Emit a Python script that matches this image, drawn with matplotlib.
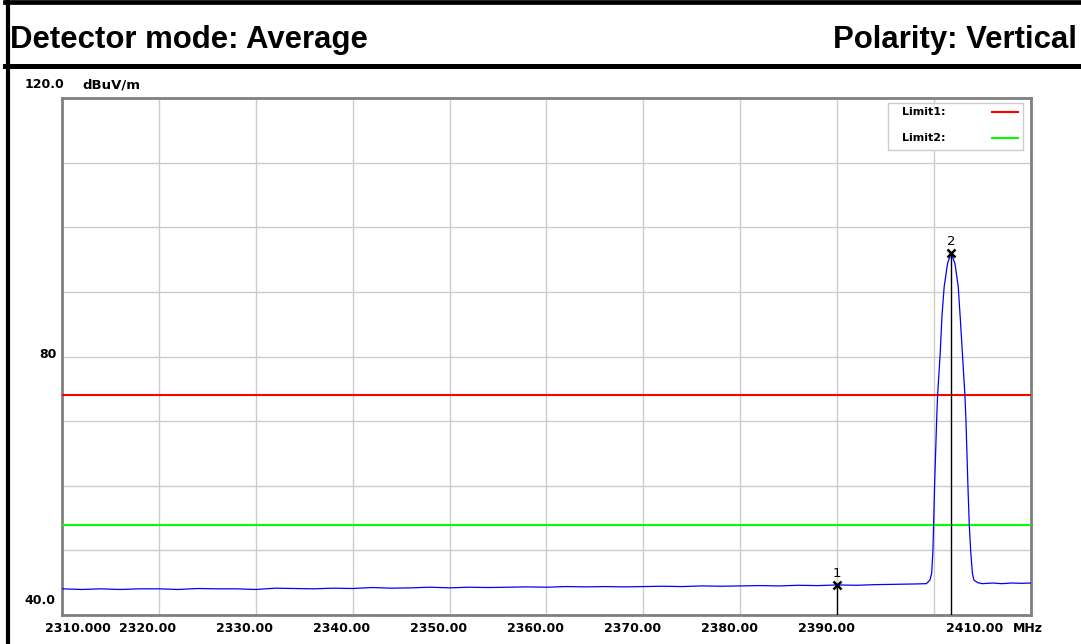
import matplotlib
matplotlib.use("Agg")
import matplotlib.pyplot as plt
from matplotlib.lines import Line2D
from matplotlib.patches import Rectangle

# trace (MHz, dBuV/m)
floor_freq = list(range(2310, 2399, 2))
floor_level = [44.05, 43.95, 44.05, 43.95, 44.05, 44.05, 43.95, 44.10, 44.05, 44.05,
               43.95, 44.15, 44.10, 44.05, 44.15, 44.10, 44.25, 44.15, 44.20, 44.30,
               44.20, 44.30, 44.25, 44.30, 44.35, 44.30, 44.40, 44.35, 44.40, 44.35,
               44.40, 44.45, 44.40, 44.50, 44.45, 44.50, 44.55, 44.50, 44.60, 44.55,
               44.65, 44.60, 44.70, 44.75, 44.80]
peak_freq = [2399.20, 2399.57, 2399.75, 2399.88, 2399.95, 2400.05, 2400.26, 2400.36,
             2400.63, 2400.81, 2401.04, 2401.39, 2401.75, 2402.15, 2402.49, 2402.69,
             2402.92, 2403.18, 2403.29, 2403.49, 2403.63, 2403.77, 2403.95, 2404.11,
             2404.50, 2404.83]
peak_level = [44.85, 45.4, 46.5, 50.0, 54.0, 60.0, 70.0, 74.0,
              80.5, 86.2, 90.8, 94.4, 96.0, 94.4, 90.8, 86.2,
              80.5, 74.0, 70.0, 60.0, 54.0, 50.0, 46.5, 45.4,
              45.0, 44.9]
tail_freq = [2405, 2406, 2407, 2408, 2409, 2410]
tail_level = [44.85, 44.95, 44.85, 44.95, 44.90, 44.95]

limit1 = 74.0
limit2 = 54.0

marker_freq = [2390.0, 2401.75]
marker_level = [44.65, 96.0]
marker_names = ['1', '2']

x_ticks = [2310, 2320, 2330, 2340, 2350, 2360, 2370, 2380, 2390, 2410]
x_tick_labels = ['2310.000', '2320.00', '2330.00', '2340.00', '2350.00', '2360.00',
                 '2370.00', '2380.00', '2390.00', '2410.00']
y_tick_labels = ['40.0', '80', '120.0']

freq = floor_freq + peak_freq + tail_freq
level = floor_level + peak_level + tail_level

W, H = 1081, 644
fig = plt.figure(figsize=(W / 100, H / 100), dpi=100)
ax = fig.add_axes([62 / W, 1 - 615 / H, 969 / W, 517 / H])

ax.set_xlim(2310, 2410)
ax.set_ylim(40, 120)
ax.set_xticks(range(2310, 2411, 10))
ax.set_yticks(range(40, 121, 10))
ax.tick_params(length=0, labelbottom=False, labelleft=False)
ax.grid(True, color='#cccccc', linewidth=1.0)
ax.set_axisbelow(True)
for s in ax.spines.values():
    s.set_color('#808080')
    s.set_linewidth(2)

ax.axhline(limit1, color='#ff0000', lw=1.5, zorder=3)
ax.axhline(limit2, color='#00ff00', lw=1.5, zorder=3)
ax.plot(freq, level, color='#0000ff', lw=0.9, zorder=4)

for f, v, n in zip(marker_freq, marker_level, marker_names):
    ax.plot([f, f], [40, v], color='black', lw=1.0, zorder=5)
    ax.plot(f, v, marker='x', ms=6, mew=1.8, color='black', zorder=6)
    ax.annotate(n, (f, v), xytext=(0, 3.5), textcoords='offset points',
                ha='center', va='bottom', fontsize=9.5, zorder=6)

# legend box, drawn like the analyser's
lab_font = dict(family='DejaVu Sans', weight='bold', fontsize=8)
fig.add_artist(Rectangle((888 / W, 1 - 150 / H), 135 / W, 47 / H, transform=fig.transFigure,
                         facecolor='white', edgecolor='#cccccc', lw=1, zorder=10))
for name, col, ypix in [('Limit1:', '#ff0000', 112), ('Limit2:', '#00ff00', 138)]:
    fig.text(902 / W, 1 - ypix / H, name, ha='left', va='center', zorder=11, **lab_font)
    fig.add_artist(Line2D([992 / W, 1018 / W], [1 - ypix / H] * 2, color=col, lw=1.5, zorder=11))

# axis labels placed as on the analyser printout
bold = dict(family='DejaVu Sans', weight='bold', fontsize=9)
offsets = [16, -11, -11, -11, -11, -11, -11, -11, -11, -56]
for t, lab, dx in zip(x_ticks, x_tick_labels, offsets):
    xpix = 62 + (t - 2310) * 969 / 100 + dx
    fig.text(xpix / W, 1 - 629 / H, lab, ha='center', va='center', **bold)
fig.text(1028 / W, 1 - 629 / H, 'MHz', ha='center', va='center', **bold)

fig.text(40 / W, 1 - 601 / H, y_tick_labels[0], ha='center', va='center', **bold)
fig.text(57 / W, 1 - 355 / H, y_tick_labels[1], ha='right', va='center', **bold)
fig.text(44 / W, 1 - 85 / H, y_tick_labels[2], ha='center', va='center', **bold)
fig.text(82 / W, 1 - 85 / H, 'dBuV/m', ha='left', va='center',
         family='DejaVu Sans', weight='bold', fontsize=9.5)

# header
fig.text(10 / W, 1 - 48 / H, 'Detector mode: Average', ha='left', va='baseline',
         family='Liberation Sans', weight='bold', fontsize=22.4)
fig.text(1077 / W, 1 - 48 / H, 'Polarity: Vertical', ha='right', va='baseline',
         family='Liberation Sans', weight='bold', fontsize=22.4)

fig.add_artist(Line2D([5 / W, 1], [1 - 2.3 / H] * 2, color='black', lw=3.4))
fig.add_artist(Line2D([5 / W, 1], [1 - 65.5 / H] * 2, color='black', lw=3.6))
fig.add_artist(Line2D([8 / W] * 2, [0, 1], color='black', lw=3.0))

fig.savefig('out.png', dpi=100)
